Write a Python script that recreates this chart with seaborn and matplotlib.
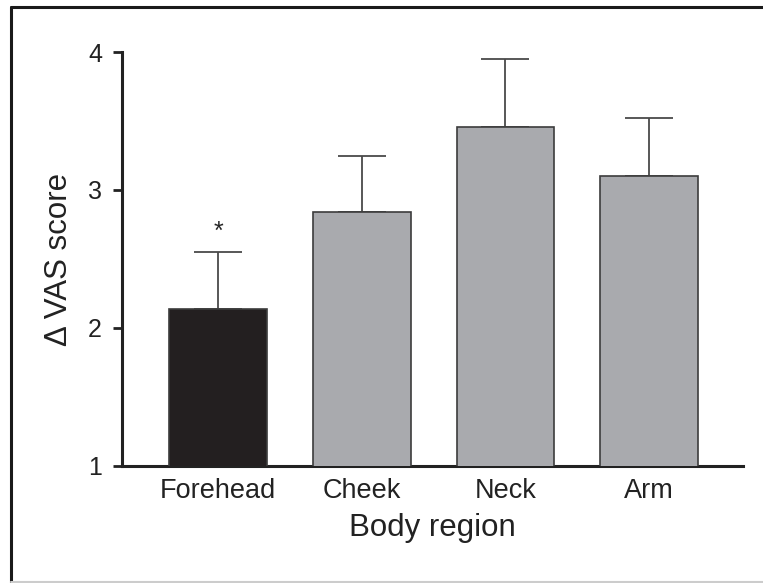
#!/usr/bin/env python3

# import libraries
import numpy as np
import matplotlib
matplotlib.use('Agg')
import matplotlib.pyplot as plt
import pandas as pd
import seaborn as sns
from matplotlib.lines import Line2D

# values
regions = ['Forehead', 'Cheek', 'Neck', 'Arm']
vas_mean = [2.14, 2.84, 3.46, 3.10]
vas_err = [0.41, 0.41, 0.49, 0.42]
bar_colors = ['#231f20', '#a9aaae', '#a9aaae', '#a9aaae']
yticks = [1, 2, 3, 4]

df = pd.DataFrame({'region': regions, 'vas': vas_mean})

sns.set_style('ticks')
plt.rcParams['font.family'] = ['Liberation Sans', 'DejaVu Sans']

fig = plt.figure(figsize=(7.63, 5.83), dpi=100)
ax = fig.add_axes([0.16, 0.2007, 0.8138, 0.7101])

sns.barplot(data=df, x='region', y='vas', hue='region', palette=bar_colors,
            order=regions, legend=False, width=0.68, saturation=1,
            edgecolor='#3c3c3c', linewidth=1.2, errorbar=None, ax=ax, zorder=3)

# one-sided error bars
xpos = np.arange(len(regions))
ax.errorbar(xpos, vas_mean, yerr=[np.zeros(len(regions)), vas_err], fmt='none',
            ecolor='#4a4a4a', elinewidth=1.3, capsize=17.3, capthick=1.3, zorder=2)

# significance mark
ax.text(0, vas_mean[0] + vas_err[0] + 0.06, '*', ha='center', va='bottom', fontsize=18)

ax.set_ylim(1, 4)
ax.set_xlim(-0.67, 3.655)
ax.set_yticks(yticks)
ax.set_yticklabels([str(t) for t in yticks], fontsize=18)
ax.tick_params(axis='y', length=6.5, width=2, pad=8, color='#222222')
ax.tick_params(axis='x', length=0, pad=9, labelsize=19.5)
for lab in ax.get_xticklabels() + ax.get_yticklabels():
    lab.set_color('#222222')
ax.set_xlabel('Body region', fontsize=22.5, labelpad=6, color='#222222')
ax.set_ylabel('Δ VAS score', fontsize=22.5, labelpad=10, color='#222222')

sns.despine(ax=ax)
for s in ['left', 'bottom']:
    ax.spines[s].set_linewidth(2.2)
    ax.spines[s].set_color('#222222')

# frame around the figure: dark top and left, faint bottom
W, H = 763, 583
fig.add_artist(Line2D([11 / W, 1], [1 - 7 / H, 1 - 7 / H], transform=fig.transFigure,
                      color='#1a1a1a', linewidth=2.2))
fig.add_artist(Line2D([11 / W, 11 / W], [0, 1 - 7 / H], transform=fig.transFigure,
                      color='#1a1a1a', linewidth=2.2))
fig.add_artist(Line2D([11 / W, 1], [1.5 / H, 1.5 / H], transform=fig.transFigure,
                      color='#cccccc', linewidth=1.5))

plt.savefig('out.png', dpi=100)
